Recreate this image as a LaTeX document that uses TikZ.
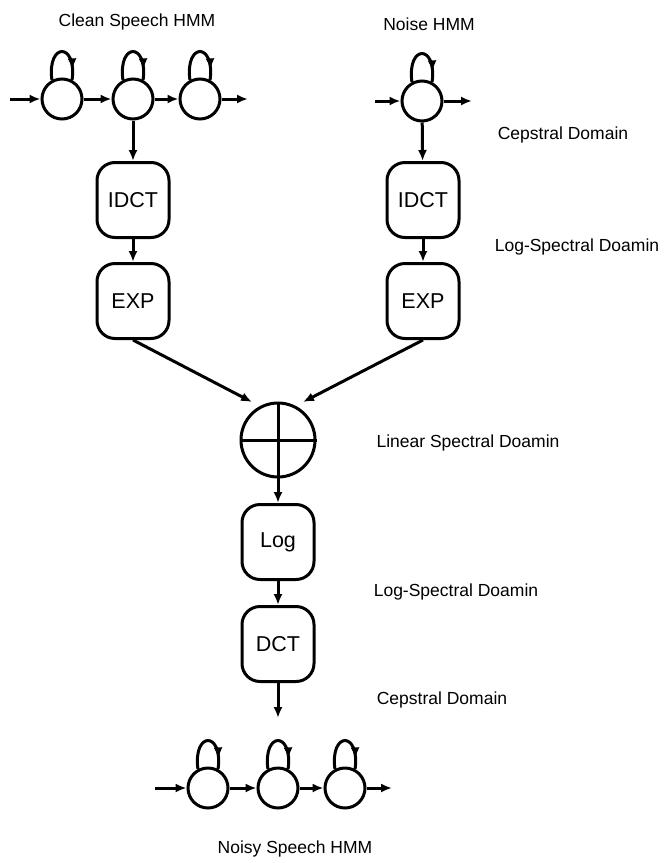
\documentclass[tikz,border=0pt]{standalone}
\usepackage{fontspec}
\setmainfont{Liberation Sans}
\usetikzlibrary{arrows.meta,decorations.markings}

\begin{document}
\begin{tikzpicture}[
        x=1pt, y=-1pt,
        line width=3pt,
        >={Latex[length=11pt,width=9pt]},
        state/.style={draw, circle, minimum size=40pt, inner sep=0pt},
        block/.style={draw, rounded corners=18pt, minimum width=72pt, minimum height=75pt,
            font=\fontsize{21.5}{24}\selectfont},
        domainlabel/.style={font=\fontsize{17.5}{20}\selectfont},
        selfloop/.style={postaction={decorate},
            decoration={markings, mark=at position 0.84 with {\arrow{>}}}},
        ]
        \useasboundingbox (0,0) rectangle (664,863);

        % HMM states
        \foreach \n / \x in {1/62, 2/133, 3/200}
        {
            \node[state] (clean\n) at (\x,99) {};
        }
        \node[state] (noise1) at (422,101) {};
        \foreach \n / \x in {1/208, 2/278, 3/345}
        {
            \node[state] (noisy\n) at (\x,788) {};
        }

        % processing blocks
        \node[block] (cidct) at (133,200) {IDCT};
        \node[block] (cexp) at (133,301) {EXP};
        \node[block] (nidct) at (423,200) {IDCT};
        \node[block] (nexp) at (423,301) {EXP};
        \node[draw, circle, minimum size=74pt, inner sep=0pt] (plus) at (278,440) {};
        \draw (plus.north) -- (plus.south) (plus.west) -- (plus.east);
        \node[block] (log) at (278,542) {Log};
        \node[block] (dct) at (278,644) {DCT};

        % free ends
        \coordinate (cin) at (10,99);
        \coordinate (cout) at (248,99);
        \coordinate (nin) at (375,101);
        \coordinate (nout) at (472,101);
        \coordinate (cjoin) at (252,402);
        \coordinate (njoin) at (303,402);
        \coordinate (dctout) at (278,718);
        \coordinate (bin) at (155,788);
        \coordinate (bout) at (392,788);

        % chains
        \draw[->] (cin) -- (clean1);
        \draw[->] (clean1) -- (clean2);
        \draw[->] (clean2) -- (clean3);
        \draw[->] (clean3) -- (cout);
        \draw[->] (nin) -- (noise1);
        \draw[->] (noise1) -- (nout);
        \draw[->] (bin) -- (noisy1);
        \draw[->] (noisy1) -- (noisy2);
        \draw[->] (noisy2) -- (noisy3);
        \draw[->] (noisy3) -- (bout);
        \foreach \s in {clean1, clean2, clean3, noise1, noisy1, noisy2, noisy3}
        {
            \draw[selfloop] (\s.118) .. controls +(-5,-38) and +(5,-38) .. (\s.62);
        }

        \draw[->] (clean2) -- (cidct);
        \draw[->] (cidct) -- (cexp);
        \draw[->] (cexp.south) -- (cjoin);
        \draw[->] (noise1) -- (nidct);
        \draw[->] (nidct) -- (nexp);
        \draw[->] (nexp.south) -- (njoin);
        \draw[->] (plus) -- (log);
        \draw[->] (log) -- (dct);
        \draw[->] (dct) -- (dctout);

        % labels
        \foreach \t / \x / \y [count=\i] in {
            Clean Speech HMM/137/22,
            Noise HMM/429/24,
            Cepstral Domain/563/135,
            Log-Spectral Doamin/577/247,
            Linear Spectral Doamin/468/443,
            Log-Spectral Doamin/456/592,
            Cepstral Domain/442/700,
            Noisy Speech HMM/295/849
        }
        {
            \node[domainlabel] (label\i) at (\x,\y) {\t};
        }

    \end{tikzpicture}
\end{document}
